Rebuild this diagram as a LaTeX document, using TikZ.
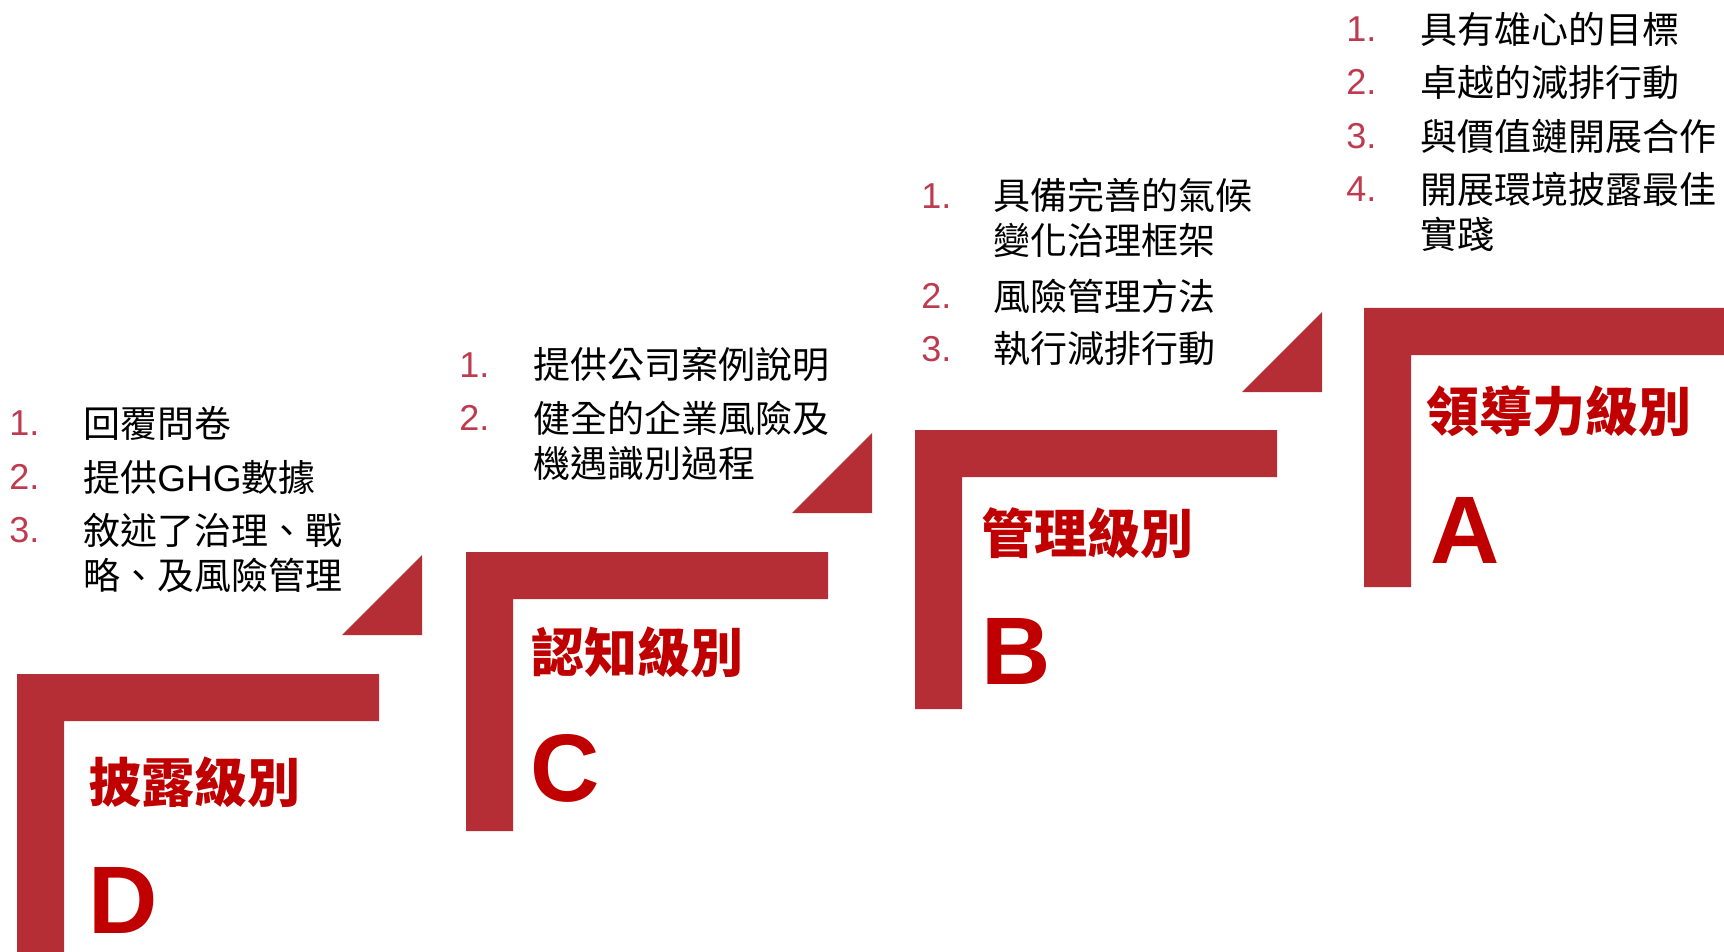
\documentclass[tikz,border=0pt]{standalone}
\usepackage{fontspec}
\setmainfont{Liberation Sans}
\newfontfamily\cjk{Noto Sans CJK TC}
\newfontfamily\latin{Liberation Sans}
\usetikzlibrary{positioning}

\definecolor{barred}{HTML}{B52D35}
\definecolor{titlered}{HTML}{C00000}
\definecolor{numred}{HTML}{BE3A4E}

\newcommand{\itemfont}{\cjk\fontsize{18.5}{22.5}\selectfont}
\newcommand{\numfont}{\fontsize{18}{22.5}\selectfont}
\newcommand{\levelfont}{\cjk\bfseries\fontsize{26.5}{30}\selectfont}
\newcommand{\gradefont}{\bfseries\fontsize{48}{52}\selectfont}

\tikzset{
  stepbar/.style = {fill=barred},
  num/.style = {font=\numfont, text=numred, anchor=west, inner sep=0pt},
  item/.style = {font=\itemfont, anchor=west, inner sep=0pt, align=left},
  level/.style = {font=\levelfont, text=titlered, anchor=west, inner sep=0pt},
  grade/.style = {font=\gradefont, text=titlered, anchor=west, inner sep=0pt}
}

\begin{document}
\begin{tikzpicture}[x=0.5pt, y=-0.5pt]
  \useasboundingbox (0,0) rectangle (1724,952);
  \clip (0,0) rectangle (1724,952);

  % steps
  \fill[stepbar] (17,674) -- ++(362,0) -- ++(0,47) -- ++(-315,0) -- ++(0,232) -- ++(-47,0) -- cycle;
  \fill[stepbar] (466,552) -- ++(362,0) -- ++(0,47) -- ++(-315,0) -- ++(0,232) -- ++(-47,0) -- cycle;
  \fill[stepbar] (915,430) -- ++(362,0) -- ++(0,47) -- ++(-315,0) -- ++(0,232) -- ++(-47,0) -- cycle;
  \fill[stepbar] (1364,308) -- ++(362,0) -- ++(0,47) -- ++(-315,0) -- ++(0,232) -- ++(-47,0) -- cycle;

  % corner triangles
  \fill[stepbar] (422,635) -- ++(0,-80) -- ++(-80,80) -- cycle;
  \fill[stepbar] (872,513) -- ++(0,-80) -- ++(-80,80) -- cycle;
  \fill[stepbar] (1322,392) -- ++(0,-80) -- ++(-80,80) -- cycle;

  % level D
  \node[num] at (9,423) (D1n) {1.};
  \node[item] at (83,423) (D1) {回覆問卷};
  \node[num] at (9,477) (D2n) {2.};
  \node[item] at (83,477) (D2) {提供{\latin GHG}數據};
  \node[num] at (9,530) (D3n) {3.};
  \node[item] at (83,552.5) (D3) {敘述了治理、戰\\略、及風險管理};
  \node[level] at (88,782) (Dlevel) {披露級別};
  \node[grade] at (88,900) (Dgrade) {D};

  % level C
  \node[num] at (459,365) (C1n) {1.};
  \node[item] at (533,365) (C1) {提供公司案例說明};
  \node[num] at (459,418) (C2n) {2.};
  \node[item] at (533,440.5) (C2) {健全的企業風險及\\機遇識別過程};
  \node[level] at (531,652) (Clevel) {認知級別};
  \node[grade] at (530,768) (Cgrade) {C};

  % level B
  \node[num] at (921,196) (B1n) {1.};
  \node[item] at (993,218) (B1) {具備完善的氣候\\變化治理框架};
  \node[num] at (921,296) (B2n) {2.};
  \node[item] at (993,296) (B2) {風險管理方法};
  \node[num] at (921,349) (B3n) {3.};
  \node[item] at (993,349) (B3) {執行減排行動};
  \node[level] at (981,533) (Blevel) {管理級別};
  \node[grade] at (981,651) (Bgrade) {B};

  % level A
  \node[num] at (1346,29) (A1n) {1.};
  \node[item] at (1420,29) (A1) {具有雄心的目標};
  \node[num] at (1346,82) (A2n) {2.};
  \node[item] at (1420,82) (A2) {卓越的減排行動};
  \node[num] at (1346,136) (A3n) {3.};
  \node[item] at (1420,136) (A3) {與價值鏈開展合作};
  \node[num] at (1346,189) (A4n) {4.};
  \node[item] at (1420,212) (A4) {開展環境披露最佳\\實踐};
  \node[level] at (1426,411) (Alevel) {領導力級別};
  \node[grade] at (1430,530) (Agrade) {A};
\end{tikzpicture}
\end{document}
